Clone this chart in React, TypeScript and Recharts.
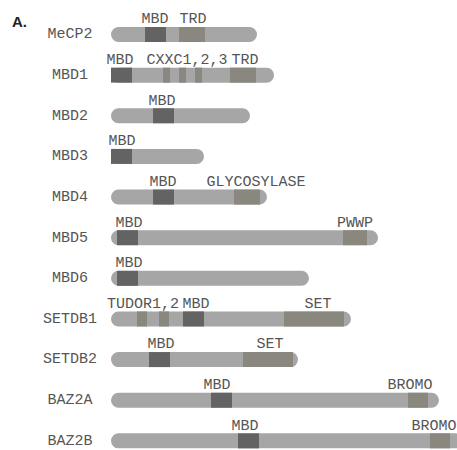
import React from "react";
import { ComposedChart, Bar, Cell, XAxis, YAxis, ReferenceDot } from "recharts";

// schematic units (not to scale with aa length)
const proteins = ["MeCP2", "MBD1", "MBD2", "MBD3", "MBD4", "MBD5", "MBD6", "SETDB1", "SETDB2", "BAZ2A", "BAZ2B"];
const lengths = [146, 163, 139, 93, 156, 267, 198, 240, 187, 328, 352];

// MBD block of every protein
const mbd: [number, number][] = [
  [34, 55], [0, 21], [42, 63], [0, 21], [42, 63], [6, 27], [6, 27], [72, 93], [38, 59], [100, 121], [127, 148],
];

// other domains (TRD, CXXC, glycosylase, PWWP, tudor, SET, bromo)
const otherDomains: [number, number][][] = [
  [[68, 94]],
  [[52, 59], [68, 75], [84, 91], [119, 145]],
  [],
  [],
  [[123, 149]],
  [[232, 256]],
  [],
  [[26, 36], [48, 58], [173, 233]],
  [[132, 182]],
  [[297, 317]],
  [[319, 339]],
];

// text above the bars: [protein, label, centre]
const domainLabels: [string, string, number][] = [
  ["MeCP2", "MBD", 44], ["MeCP2", "TRD", 82],
  ["MBD1", "MBD", 9], ["MBD1", "CXXC1,2,3", 76], ["MBD1", "TRD", 134],
  ["MBD2", "MBD", 51],
  ["MBD3", "MBD", 11],
  ["MBD4", "MBD", 52], ["MBD4", "GLYCOSYLASE", 145],
  ["MBD5", "MBD", 18], ["MBD5", "PWWP", 244],
  ["MBD6", "MBD", 18],
  ["SETDB1", "TUDOR1,2", 32], ["SETDB1", "MBD", 85], ["SETDB1", "SET", 207],
  ["SETDB2", "MBD", 50], ["SETDB2", "SET", 159],
  ["BAZ2A", "MBD", 106], ["BAZ2A", "BROMO", 299],
  ["BAZ2B", "MBD", 134], ["BAZ2B", "BROMO", 323],
];

const LIGHT = "#a6a6a6";
const DARK = "#636363";
const KHAKI = "#8a877f";
const TEXT = "#555";
const FONT = "Courier New, Liberation Mono, Courier, monospace";

const maxOther = Math.max(...otherDomains.map((d) => d.length));

const data = proteins.map((name, i) => {
  const row: any = { name, len: [0, lengths[i]], mbd: mbd[i] };
  for (let k = 0; k < maxOther; k++) {
    row["d" + k] = otherDomains[i][k] ?? [0, 0];
  }
  return row;
});

const RowTick = (props: any) => {
  const { x, y, payload } = props;
  return (
    <text x={x - 41} y={y} dy={4} textAnchor="middle" fontSize={15} fontFamily={FONT} fill={TEXT}>
      {payload.value}
    </text>
  );
};

export default function App() {
  return (
    <div style={{ position: "relative", width: 457, height: 450, overflow: "hidden" }}>
      <style>{"body{margin:0;overflow:hidden}"}</style>
      <div
        style={{
          position: "absolute",
          left: 12,
          top: 13,
          fontFamily: "'Liberation Sans', Arial, sans-serif",
          fontWeight: 700,
          fontSize: 15,
          color: "#222",
        }}
      >
        A.
      </div>
      <div style={{ position: "absolute", left: 8, top: 8 }}>
        <ComposedChart
          width={449}
          height={453}
          data={data}
          layout="vertical"
          margin={{ top: 6, right: 0, bottom: 0, left: 0 }}
          barSize={15}
          barGap={-15}
          barCategoryGap={0}
        >
          <XAxis type="number" domain={[0, 346]} allowDataOverflow hide />
          <YAxis
            type="category"
            dataKey="name"
            width={103}
            axisLine={false}
            tickLine={false}
            tickSize={0}
            tickMargin={0}
            interval={0}
            tick={<RowTick />}
          />
          <Bar dataKey="len" fill={LIGHT} radius={7.5} isAnimationActive={false} />
          <Bar dataKey="mbd" fill={DARK} isAnimationActive={false} />
          {Array.from({ length: maxOther }, (_, k) => (
            <Bar key={k} dataKey={"d" + k} fill={KHAKI} isAnimationActive={false}>
              {data.map((_, i) => (
                <Cell key={i} fill={KHAKI} />
              ))}
            </Bar>
          ))}
          {domainLabels.map(([p, text, at], i) => (
            <ReferenceDot
              key={i}
              x={at}
              y={p}
              r={0}
              fill="none"
              stroke="none"
              ifOverflow="visible"
              label={{ value: text, position: "top", offset: 11, fontSize: 15, fontFamily: FONT, fill: TEXT }}
            />
          ))}
        </ComposedChart>
      </div>
    </div>
  );
}
